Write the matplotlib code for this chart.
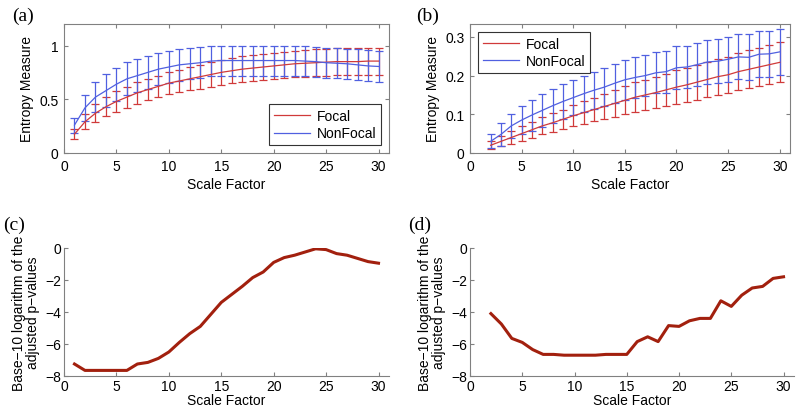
import numpy as np
import matplotlib
matplotlib.use("Agg")
import matplotlib.pyplot as plt

plt.rcParams['font.family'] = ['Liberation Sans', 'DejaVu Sans']
plt.rcParams['font.size'] = 10

# panel (a): scales 1..30
scale_a = list(range(1, 31))
focal_a = [0.175, 0.29, 0.37, 0.43, 0.48, 0.52, 0.56, 0.59, 0.62, 0.65,
           0.67, 0.69, 0.71, 0.73, 0.75, 0.765, 0.78, 0.79, 0.80, 0.81,
           0.82, 0.83, 0.835, 0.84, 0.845, 0.85, 0.85, 0.85, 0.855, 0.855]
focal_a_err = [0.045, 0.07, 0.085, 0.087, 0.095, 0.098, 0.1, 0.1, 0.1, 0.1,
               0.105, 0.108, 0.11, 0.112, 0.115, 0.117, 0.118, 0.12, 0.12, 0.12,
               0.122, 0.122, 0.124, 0.125, 0.125, 0.125, 0.125, 0.125, 0.125, 0.125]
nonfocal_a = [0.26, 0.42, 0.52, 0.58, 0.64, 0.69, 0.72, 0.75, 0.78, 0.80,
              0.82, 0.83, 0.84, 0.855, 0.86, 0.86, 0.86, 0.86, 0.86, 0.86,
              0.86, 0.86, 0.855, 0.85, 0.84, 0.835, 0.83, 0.82, 0.81, 0.805]
nonfocal_a_err = [0.07, 0.12, 0.14, 0.155, 0.155, 0.155, 0.155, 0.155, 0.152, 0.15,
                  0.148, 0.146, 0.145, 0.142, 0.14, 0.14, 0.14, 0.14, 0.14, 0.14,
                  0.14, 0.14, 0.14, 0.14, 0.14, 0.14, 0.142, 0.143, 0.144, 0.145]

# panel (b): scales 2..30
scale_b = list(range(2, 31))
focal_b = [0.02, 0.03, 0.04, 0.05, 0.06, 0.07, 0.078, 0.087, 0.096, 0.104,
           0.112, 0.12, 0.128, 0.136, 0.144, 0.15, 0.156, 0.163, 0.17, 0.176,
           0.183, 0.19, 0.197, 0.202, 0.21, 0.216, 0.222, 0.228, 0.234]
focal_b_err = [0.01, 0.013, 0.016, 0.019, 0.021, 0.022, 0.024, 0.025, 0.027, 0.029,
               0.03, 0.032, 0.034, 0.036, 0.038, 0.039, 0.04, 0.041, 0.043, 0.044,
               0.045, 0.045, 0.046, 0.047, 0.048, 0.049, 0.05, 0.051, 0.052]
nonfocal_b = [0.03, 0.048, 0.07, 0.085, 0.098, 0.11, 0.122, 0.133, 0.143, 0.153,
              0.162, 0.17, 0.18, 0.189, 0.195, 0.2, 0.207, 0.21, 0.22, 0.222,
              0.228, 0.235, 0.237, 0.242, 0.248, 0.247, 0.255, 0.256, 0.261]
nonfocal_b_err = [0.018, 0.029, 0.031, 0.037, 0.04, 0.042, 0.044, 0.045, 0.046, 0.047,
                  0.048, 0.049, 0.05, 0.051, 0.052, 0.053, 0.053, 0.054, 0.055, 0.055,
                  0.056, 0.057, 0.057, 0.058, 0.058, 0.059, 0.059, 0.06, 0.06]

# panel (c) and (d): log10 adjusted p-values
scale_c = list(range(1, 31))
logp_c = [-7.25, -7.65, -7.65, -7.65, -7.65, -7.65, -7.25, -7.15, -6.9, -6.5,
          -5.9, -5.35, -4.9, -4.15, -3.4, -2.9, -2.4, -1.85, -1.5, -0.9,
          -0.6, -0.45, -0.25, -0.05, -0.1, -0.35, -0.45, -0.65, -0.85, -0.95]
scale_d = list(range(2, 31))
logp_d = [-4.1, -4.75, -5.65, -5.9, -6.35, -6.65, -6.65, -6.7, -6.7, -6.7,
          -6.7, -6.65, -6.65, -6.65, -5.85, -5.55, -5.85, -4.85, -4.9, -4.55,
          -4.4, -4.4, -3.3, -3.65, -2.95, -2.5, -2.4, -1.9, -1.8]

red = '#d03a3a'
blue = '#5060e0'
dark = '#a2200e'
gray = '#808080'

fig = plt.figure(figsize=(7.98, 4.10), dpi=100)
W, H = 798.0, 410.0

def add_axes(l, r, t, b):
    return fig.add_axes([l / W, 1 - b / H, (r - l) / W, (b - t) / H])

def style(ax, box=True, pad=4):
    for s in ax.spines.values():
        s.set_color(gray)
        s.set_linewidth(0.8)
    if not box:
        ax.spines['top'].set_visible(False)
        ax.spines['right'].set_visible(False)
    ax.tick_params(direction='in', length=3, color=gray, labelsize=10,
                   top=box, right=box, pad=pad)

def entropy_panel(ax, x, f, fe, n, ne, ylim, yticks, yticklabels, loc):
    ax.errorbar(x, f, yerr=fe, color=red, lw=0.9, elinewidth=0.9,
                capsize=3, capthick=0.9, label='Focal')
    ax.errorbar(x, n, yerr=ne, color=blue, lw=0.9, elinewidth=0.9,
                capsize=3, capthick=0.9, label='NonFocal')
    ax.set_xlim(0, 31)
    ax.set_ylim(*ylim)
    ax.set_xticks([0, 5, 10, 15, 20, 25, 30])
    ax.set_yticks(yticks)
    ax.set_yticklabels(yticklabels)
    ax.set_xlabel('Scale Factor', labelpad=3)
    ax.set_ylabel('Entropy Measure')
    handles, labels = ax.get_legend_handles_labels()
    handles = [h[0] for h in handles]
    leg = ax.legend(handles, labels, loc=loc, fancybox=False, framealpha=1,
                    edgecolor='#333333', fontsize=10, handlelength=2.6,
                    handletextpad=0.5, labelspacing=0.25, borderpad=0.35,
                    borderaxespad=0.55)
    leg.get_frame().set_linewidth(0.8)
    style(ax)

ax1 = add_axes(64, 389, 25, 154)
entropy_panel(ax1, scale_a, focal_a, focal_a_err, nonfocal_a, nonfocal_a_err,
              (0, 1.2), [0, 0.5, 1], ['0', '0.5', '1'], 'lower right')

ax2 = add_axes(470, 790, 25, 154)
entropy_panel(ax2, scale_b, focal_b, focal_b_err, nonfocal_b, nonfocal_b_err,
              (0, 0.333), [0, 0.1, 0.2, 0.3], ['0', '0.1', '0.2', '0.3'], 'upper left')

def pvalue_panel(ax, x, y):
    ax.plot(x, y, color=dark, lw=2.2)
    ax.set_xlim(0, 31)
    ax.set_ylim(-8, 0)
    ax.set_xticks([0, 5, 10, 15, 20, 25, 30])
    ax.set_yticks([-8, -6, -4, -2, 0])
    ax.set_yticklabels(['\u22128', '\u22126', '\u22124', '\u22122', '0'])
    ax.set_xlabel('Scale Factor', labelpad=0)
    ax.set_ylabel('Base\u221210 logarithm of the\nadjusted p\u2212values',
                  linespacing=1.0)
    style(ax, box=False, pad=2)

ax3 = add_axes(64, 389, 249, 377)
pvalue_panel(ax3, scale_c, logp_c)
ax4 = add_axes(470, 794, 249, 377)
pvalue_panel(ax4, scale_d, logp_d)

for lab, px, py in [('(a)', 12, 16), ('(b)', 416, 16), ('(c)', 3, 225), ('(d)', 408, 225)]:
    fig.text(px / W, 1 - py / H, lab, family=['Liberation Serif', 'DejaVu Serif'],
             fontsize=14, va='center', ha='left')

fig.savefig('out.png', dpi=100)
